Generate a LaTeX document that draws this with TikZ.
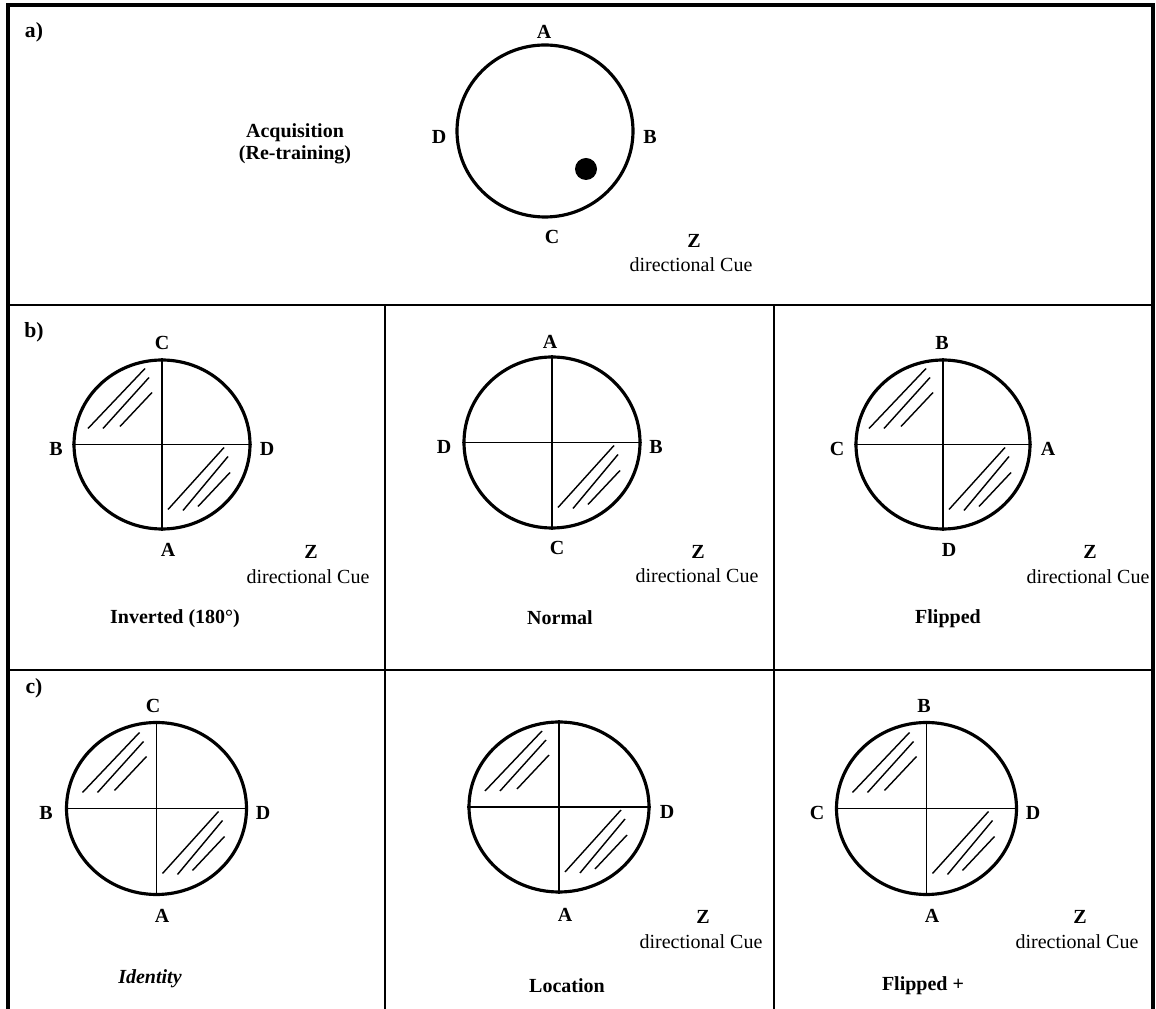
\documentclass[tikz,border=0pt]{standalone}
\usepackage{fontspec}
\setmainfont{Liberation Serif}
\usetikzlibrary{shapes.geometric}

\newcommand{\hatchtl}[1]{\foreach \a/\b/\c/\d in {-74/-16/-17/-76, -59/-16/-13/-67, -42/-18/-10/-52}
  \draw[hatch] ([shift={(\a,\b)}]#1.center) -- ([shift={(\c,\d)}]#1.center);}
\newcommand{\hatchbr}[1]{\foreach \a/\b/\c/\d in {6/65/62/3, 21/66/66/12, 36/62/68/28}
  \draw[hatch] ([shift={(\a,\b)}]#1.center) -- ([shift={(\c,\d)}]#1.center);}

\begin{document}
\begin{tikzpicture}[x=0.6pt, y=-0.6pt,
    lab/.style={font=\fontsize{12}{13.2}\selectfont\bfseries, inner sep=0pt},
    panel/.style={font=\fontsize{13}{14}\selectfont\bfseries, inner sep=0pt},
    txt/.style={font=\fontsize{12}{13.2}\selectfont, inner sep=0pt, align=center},
    ring/.style={draw, ellipse, line width=1.9pt, inner sep=0pt, minimum width=105.6pt, minimum height=102pt},
    quad/.style={line width=1pt},
    hatch/.style={line width=0.85pt},
    frame/.style={line width=2.1pt},
    split/.style={line width=1.1pt}]
  \useasboundingbox (0,0) rectangle (1156,1009);
  \draw[frame] (8,1009) -- (8,5) -- (1153,5) -- (1153,1009);
  \draw[split] (8,305) -- (1153,305); \draw[split] (8,670) -- (1153,670);
  \draw[split] (385,305) -- (385,1009); \draw[split] (774,305) -- (774,1009);

  % a)
  \node[panel] (pa) at (34,32) {a)};
  \node[lab, align=center] (acq) at (295,144) {Acquisition\\(Re-training)};
  \node[ring, minimum height=103.2pt] (ra) at (545,131) {};
  \node[circle, fill, inner sep=0pt, minimum size=13.2pt] (dot) at (586,169) {};
  \node[lab] (ra-n) at (544,32) {A}; \node[lab] (ra-w) at (439,137) {D};
  \node[lab] (ra-e) at (650,137) {B}; \node[lab] (ra-s) at (552,237) {C};
  \node[lab] (za) at (694,241) {Z}; \node[txt] (cuea) at (691,265) {directional Cue};

  % b)
  \node[panel] (pb) at (34,332) {b)};
  \node[ring, minimum height=101.4pt] (rb1) at (162,444.5) {};
  \draw[quad] (rb1.north) -- (rb1.south); \draw[quad] (rb1.west) -- (rb1.east);
  \hatchtl{rb1} \hatchbr{rb1}
  \node[lab] (rb1-n) at (162,343) {C}; \node[lab] (rb1-w) at (56,449) {B};
  \node[lab] (rb1-e) at (267,449) {D}; \node[lab] (rb1-s) at (168,550) {A};
  \node[lab] (zb1) at (311,552) {Z}; \node[txt] (cueb1) at (308,577) {directional Cue};
  \node[lab] (tb1) at (175,619) {Inverted (180°)};

  \node[ring, minimum height=102.6pt] (rb2) at (552,442.5) {};
  \draw[quad] (rb2.north) -- (rb2.south); \draw[quad] (rb2.west) -- (rb2.east);
  \hatchbr{rb2}
  \node[lab] (rb2-n) at (550,342) {A}; \node[lab] (rb2-w) at (444,447) {D};
  \node[lab] (rb2-e) at (656,447) {B}; \node[lab] (rb2-s) at (557,548) {C};
  \node[lab] (zb2) at (698,552) {Z}; \node[txt] (cueb2) at (697,576) {directional Cue};
  \node[lab] (tb2) at (560,618) {Normal};

  \node[ring, minimum width=104.4pt, minimum height=101.4pt] (rb3) at (943,444.5) {};
  \draw[quad] (rb3.north) -- (rb3.south); \draw[quad] (rb3.west) -- (rb3.east);
  \hatchtl{rb3} \hatchbr{rb3}
  \node[lab] (rb3-n) at (942,343) {B}; \node[lab] (rb3-w) at (837,449) {C};
  \node[lab] (rb3-e) at (1048,449) {A}; \node[lab] (rb3-s) at (949,550) {D};
  \node[lab] (zb3) at (1090,552) {Z}; \node[txt] (cueb3) at (1088,577) {directional Cue};
  \node[lab] (tb3) at (948,619) {Flipped};

  % c)
  \node[panel] (pc) at (34,688) {c)};
  \node[ring, minimum width=108pt, minimum height=103.2pt] (rc1) at (156.5,808.5) {};
  \draw[quad] (rc1.north) -- (rc1.south); \draw[quad] (rc1.west) -- (rc1.east);
  \hatchtl{rc1} \hatchbr{rc1}
  \node[lab] (rc1-n) at (153,706) {C}; \node[lab] (rc1-w) at (46,813) {B};
  \node[lab] (rc1-e) at (263,813) {D}; \node[lab] (rc1-s) at (162,916) {A};
  \node[lab, font=\fontsize{12}{13.2}\selectfont\bfseries\itshape] (tc1) at (150,979) {Identity};

  \node[ring, minimum width=108pt, minimum height=102pt] (rc2) at (559,807) {};
  \draw[quad] (rc2.north) -- (rc2.south); \draw[quad] (rc2.west) -- (rc2.east);
  \hatchtl{rc2} \hatchbr{rc2}
  \node[lab] (rc2-e) at (667,812) {D}; \node[lab] (rc2-s) at (565,915) {A};
  \node[lab] (zc2) at (703,917) {Z}; \node[txt] (cuec2) at (701,942) {directional Cue};
  \node[lab] (tc2) at (567,986) {Location};

  \node[ring, minimum width=108pt, minimum height=103.2pt] (rc3) at (926.5,808.5) {};
  \draw[quad] (rc3.north) -- (rc3.south); \draw[quad] (rc3.west) -- (rc3.east);
  \hatchtl{rc3} \hatchbr{rc3}
  \node[lab] (rc3-n) at (924,706) {B}; \node[lab] (rc3-w) at (817,813) {C};
  \node[lab] (rc3-e) at (1033,813) {D}; \node[lab] (rc3-s) at (932,916) {A};
  \node[lab] (zc3) at (1080,917) {Z}; \node[txt] (cuec3) at (1077,942) {directional Cue};
  \node[lab] (tc3) at (923,986) {Flipped +};
\end{tikzpicture}
\end{document}
